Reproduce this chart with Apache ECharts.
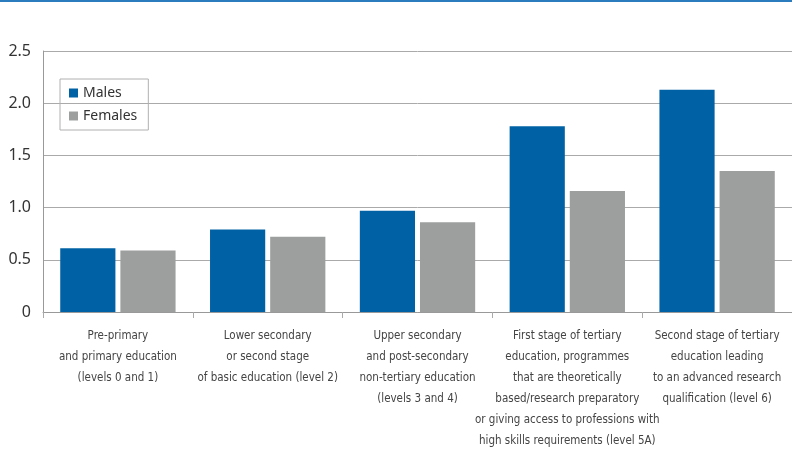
<!DOCTYPE html>
<html style="height: 100%">
<head>
<meta charset="utf-8">
<script src="https://cdn.jsdelivr.net/npm/echarts@6/dist/echarts.min.js"></script>
</head>
<body style="height: 100%; margin: 0; background: #fff">
<div id="container" style="width: 792px; height: 452px"></div>
<script type="text/javascript">
var categories = [
    'Pre-primary\nand primary education\n(levels 0 and 1)',
    'Lower secondary\nor second stage\nof basic education (level 2)',
    'Upper secondary\nand post-secondary\nnon-tertiary education\n(levels 3 and 4)',
    'First stage of tertiary\neducation, programmes\nthat are theoretically\nbased/research preparatory\nor giving access to professions with\nhigh skills requirements (level 5A)',
    'Second stage of tertiary\neducation leading\nto an advanced research\nqualification (level 6)'
];
var males = [0.61, 0.79, 0.97, 1.78, 2.13];
var females = [0.59, 0.72, 0.86, 1.16, 1.35];

var myChart = echarts.init(document.getElementById('container'));

myChart.setOption({
    animation: false,
    color: ['#0062a5', '#9d9e9e'],
    graphic: [{
        type: 'rect',
        shape: { x: 0, y: 0, width: 792, height: 2 },
        style: { fill: '#2b7bbf' }
    }],
    legend: {
        orient: 'vertical',
        left: 60,
        top: 79,
        data: ['Males', 'Females'],
        icon: 'rect',
        itemWidth: 9,
        itemHeight: 9,
        itemGap: 9,
        padding: [7, 11, 7, 9],
        borderColor: '#b0b0b0',
        borderWidth: 1,
        textStyle: { color: '#333', fontSize: 14, fontFamily: 'Noto Sans' }
    },
    grid: { left: 43, right: 0, top: 51, bottom: 139 },
    xAxis: {
        type: 'category',
        data: categories,
        axisLine: { lineStyle: { color: '#999', width: 1 } },
        axisTick: { show: true, length: 6, lineStyle: { color: '#aaa' } },
        axisLabel: {
            interval: 0,
            margin: 14,
            color: '#444',
            fontSize: 11.5,
            lineHeight: 21,
            fontFamily: '"DejaVu Sans Condensed", sans-serif'
        }
    },
    yAxis: {
        type: 'value',
        min: 0,
        max: 2.5,
        interval: 0.5,
        axisLine: { show: true, lineStyle: { color: '#999' } },
        axisTick: { show: false },
        splitLine: { lineStyle: { color: '#aaa', width: 1 } },
        axisLabel: {
            margin: 12,
            color: '#333',
            fontSize: 16,
            fontFamily: 'Noto Sans',
            formatter: function (v) { return v === 0 ? '0' : v.toFixed(1); }
        }
    },
    series: [{
        name: 'Males',
        type: 'bar',
        data: males,
        barGap: '9%',
        barCategoryGap: '23%'
    }, {
        name: 'Females',
        type: 'bar',
        data: females
    }]
});
</script>
</body>
</html>
